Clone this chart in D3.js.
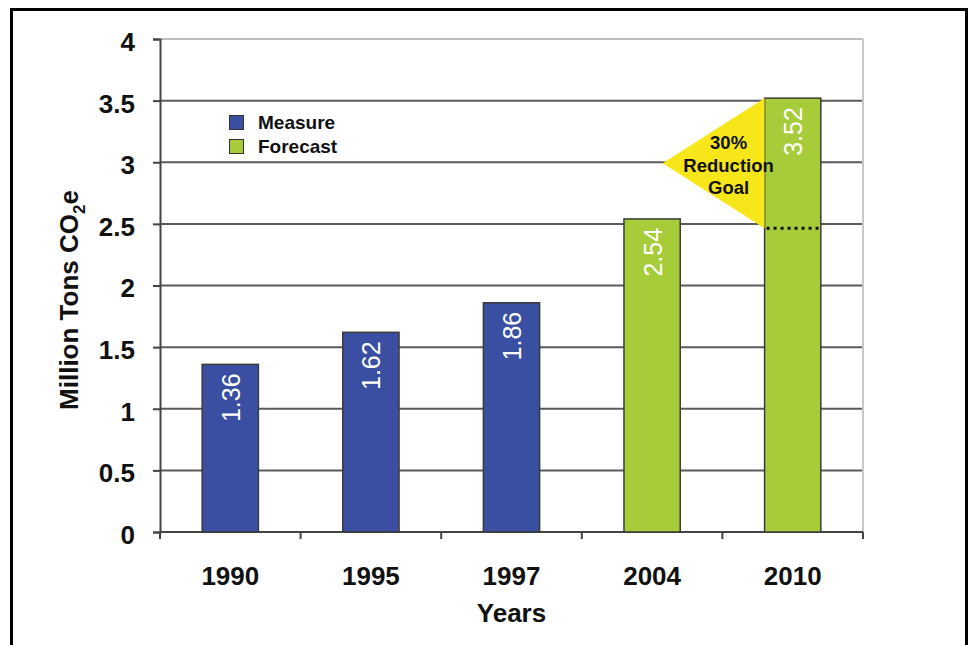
<!DOCTYPE html>
<html>
<head>
<meta charset="utf-8">
<script src="https://cdn.jsdelivr.net/npm/d3@7"></script>
<style>
  body { margin: 0; background: #fff; }
  svg { display: block; font-family: "Liberation Sans", Arial, sans-serif; }
</style>
</head>
<body>
<svg id="chart" width="971" height="645"></svg>
<script>
// Data
const years = ['1990', '1995', '1997', '2004', '2010']
const values = [1.36, 1.62, 1.86, 2.54, 3.52]
const kinds = ['Measure', 'Measure', 'Measure', 'Forecast', 'Forecast']
const legendItems = ['Measure', 'Forecast']
const yTicks = [0, 0.5, 1, 1.5, 2, 2.5, 3, 3.5, 4]
const reduction = 0.30
const goalLines = ['30%', 'Reduction', 'Goal']

const colors = { Measure: '#3a4fa1', Forecast: '#a7cc39' }

const svg = d3.select('#chart')

// outer frame
svg.append('rect')
  .attr('x', 11.5).attr('y', 9.5)
  .attr('width', 955).attr('height', 660)
  .attr('fill', 'none').attr('stroke', '#000').attr('stroke-width', 3)

const plotL = 160, plotR = 863, plotT = 39, plotB = 532

const x = d3.scaleBand().domain(years).range([plotL, plotR]).paddingInner(0.6).paddingOuter(0.3)
const y = d3.scaleLinear().domain([0, 4]).range([plotB, plotT])

// gridlines
svg.append('g').selectAll('line')
  .data(yTicks.filter(d => d > 0))
  .join('line')
  .attr('x1', plotL).attr('x2', plotR)
  .attr('y1', d => y(d)).attr('y2', d => y(d))
  .attr('stroke', d => d === 4 ? '#bdbdbd' : '#5a5a5a')
  .attr('stroke-width', 2)

// right border of plot
svg.append('line')
  .attr('x1', plotR).attr('x2', plotR).attr('y1', plotT).attr('y2', plotB)
  .attr('stroke', '#c8c8c8').attr('stroke-width', 2)

// y axis
const yAxis = svg.append('g')
  .attr('transform', `translate(${plotL},0)`)
  .call(d3.axisLeft(y).tickValues(yTicks).tickSize(7).tickPadding(18).tickFormat(d3.format('')))
yAxis.select('.domain').attr('stroke', '#444').attr('stroke-width', 2)
yAxis.selectAll('.tick line').attr('stroke', '#444').attr('stroke-width', 2)
yAxis.selectAll('.tick text')
  .attr('font-size', 26).attr('font-weight', 'bold').attr('fill', '#111')
  .attr('dy', '0.44em')
  .attr('font-family', '"Liberation Sans", Arial, sans-serif')

// x axis with ticks at category boundaries
const bounds = d3.range(years.length + 1).map(i => plotL + i * (plotR - plotL) / years.length)
svg.append('line')
  .attr('x1', plotL).attr('x2', plotR).attr('y1', plotB).attr('y2', plotB)
  .attr('stroke', '#444').attr('stroke-width', 2)
svg.append('g').selectAll('line')
  .data(bounds)
  .join('line')
  .attr('x1', d => d).attr('x2', d => d)
  .attr('y1', plotB).attr('y2', plotB + 7)
  .attr('stroke', '#444').attr('stroke-width', 2)
svg.append('g').selectAll('text')
  .data(years)
  .join('text')
  .attr('x', d => x(d) + x.bandwidth() / 2)
  .attr('y', 585)
  .attr('text-anchor', 'middle')
  .attr('font-size', 26).attr('font-weight', 'bold').attr('fill', '#111')
  .text(d => d)

// bars
svg.append('g').selectAll('rect')
  .data(years)
  .join('rect')
  .attr('x', d => x(d))
  .attr('y', (d, i) => y(values[i]))
  .attr('width', x.bandwidth())
  .attr('height', (d, i) => y(0) - y(values[i]))
  .attr('fill', (d, i) => colors[kinds[i]])
  .attr('stroke', '#3b3b3b').attr('stroke-width', 1.5)

// reduction goal triangle
const last = years.length - 1
const goalVal = values[last] * (1 - reduction)
const tx = x(years[last])
const yTop = y(values[last]), yBot = y(goalVal), yMid = (yTop + yBot) / 2
svg.append('path')
  .attr('d', `M${tx},${yTop} L${tx},${yBot} L${tx - 102},${yMid} Z`)
  .attr('fill', '#f6e61a')

// dotted goal line
svg.append('line')
  .attr('x1', tx + 2).attr('x2', tx + x.bandwidth())
  .attr('y1', yBot).attr('y2', yBot)
  .attr('stroke', '#111').attr('stroke-width', 3)
  .attr('stroke-dasharray', '3,4')

svg.append('g').selectAll('text')
  .data(goalLines)
  .join('text')
  .attr('x', tx - 36)
  .attr('y', (d, i) => yMid - 14 + i * 22.5)
  .attr('text-anchor', 'middle')
  .attr('font-size', 18.5).attr('font-weight', 'bold').attr('fill', '#111')
  .text(d => d)

// value labels in bars
svg.append('g').selectAll('text')
  .data(years)
  .join('text')
  .attr('transform', (d, i) => `translate(${x(d) + x.bandwidth() / 2 + 9.5},${y(values[i]) + 9}) rotate(-90)`)
  .attr('text-anchor', 'end')
  .attr('font-size', 25).attr('fill', '#fff')
  .text((d, i) => values[i].toFixed(2))

// legend
const legend = svg.append('g')
legendItems.forEach((k, i) => {
  legend.append('rect')
    .attr('x', 229.5).attr('y', 115.5 + i * 24)
    .attr('width', 14).attr('height', 14)
    .attr('fill', colors[k]).attr('stroke', '#333').attr('stroke-width', 1)
  legend.append('text')
    .attr('x', 258).attr('y', 129 + i * 24)
    .attr('font-size', 19).attr('font-weight', 'bold').attr('fill', '#111')
    .text(k)
})

// axis titles
svg.append('text')
  .attr('x', (plotL + plotR) / 2).attr('y', 622)
  .attr('text-anchor', 'middle')
  .attr('font-size', 26).attr('font-weight', 'bold').attr('fill', '#111')
  .text('Years')

const yt = svg.append('text')
  .attr('transform', `translate(78,300) rotate(-90)`)
  .attr('text-anchor', 'middle')
  .attr('font-size', 26).attr('font-weight', 'bold').attr('fill', '#111')
yt.append('tspan').text('Million Tons CO')
yt.append('tspan').attr('font-size', 17).attr('dy', 7).text('2')
yt.append('tspan').attr('dy', -7).text('e')
</script>
</body>
</html>
